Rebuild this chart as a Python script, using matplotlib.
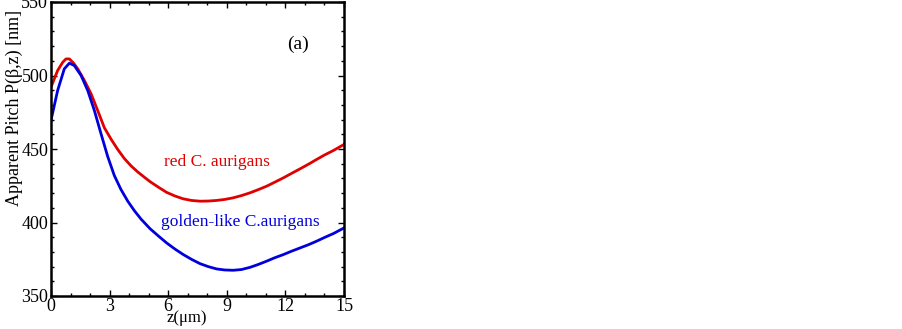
import matplotlib
matplotlib.use("Agg")
import matplotlib.pyplot as plt
from matplotlib.ticker import MultipleLocator

plt.rcParams['font.family'] = ['Liberation Serif', 'DejaVu Serif']

z_red = [0, 0.34, 0.6, 0.77, 0.94, 1.15, 1.37, 1.71, 2.05, 2.39, 2.73, 3.07, 3.41,
         3.75, 4.10, 4.44, 4.78, 5.07, 5.5, 5.92, 6.35, 6.77, 7.2, 7.63, 8.05, 8.48,
         8.9, 9.33, 9.75, 10.19, 10.6, 11.04, 11.45, 11.9, 12.3, 12.75, 13.2, 13.6,
         14.0, 14.46, 15.0]
p_red = [492.1, 503.4, 509, 511.3, 511.3, 508.5, 504.5, 496.6, 487.6, 476.2, 464.5,
         456.8, 449.8, 443.6, 438.5, 434.4, 430.8, 427.8, 424, 420.5, 418, 416.1, 415,
         414.5, 414.6, 415, 415.7, 416.8, 418.3, 420.2, 422.3, 424.7, 427.4, 430.4,
         433.3, 436.5, 439.8, 442.9, 445.9, 449, 453.1]

z_blue = [0, 0.34, 0.68, 0.94, 1.19, 1.54, 1.88, 2.22, 2.56, 2.90, 3.24, 3.58, 3.93,
          4.27, 4.61, 5.07, 5.5, 5.92, 6.35, 6.77, 7.2, 7.63, 8.05, 8.48, 8.9, 9.33,
          9.75, 10.19, 10.6, 11.04, 11.45, 11.9, 12.3, 12.75, 13.2, 13.6, 14.0,
          14.46, 15.0]
p_blue = [469.5, 489.8, 504.5, 508.4, 506.8, 500, 489.8, 476.2, 460.4, 445, 432,
          422.5, 414.5, 408, 402.3, 395.8, 390.8, 386.1, 381.9, 378.2, 374.9, 372,
          370, 368.4, 367.7, 367.5, 368, 369.5, 371.4, 373.7, 376, 378.2, 380.4,
          382.7, 385, 387.3, 389.8, 392.5, 396.3]

red = '#e00000'
blue = '#0000dd'

fig = plt.figure(figsize=(9.03, 3.29), dpi=100)
ax = fig.add_axes([51/903, 33/329, 293/903, 294/329])

ax.plot(z_red, p_red, color=red, lw=2.0)
ax.plot(z_blue, p_blue, color=blue, lw=2.0)

ax.set_xlim(0, 15)
ax.set_ylim(350, 550)
ax.xaxis.set_major_locator(MultipleLocator(3))
ax.xaxis.set_minor_locator(MultipleLocator(1))
ax.yaxis.set_major_locator(MultipleLocator(50))
ax.yaxis.set_minor_locator(MultipleLocator(10))
ax.tick_params(which='both', direction='in', top=True, right=True, width=1.0)
ax.tick_params(which='major', length=4.5, labelsize=13, pad=2)
ax.tick_params(axis='x', which='major', pad=1.5)
ax.tick_params(which='minor', length=2.5)
for s in ax.spines.values():
    s.set_linewidth(1.8)

ax.set_xlabel('z(μm)', fontsize=12)
ax.xaxis.set_label_coords(0.463, -0.047)
ax.set_ylabel('Apparent Pitch P(β,z) [nm]', fontsize=13)
ax.yaxis.set_label_coords(-0.095, 0.64)

ax.text(8.5, 441, 'red C. aurigans', color=red, fontsize=12.5, ha='center', va='center')
ax.text(9.7, 400, 'golden-like C.aurigans', color=blue, fontsize=12.5, ha='center', va='center')
ax.text(12.65, 521, '(a)', color='black', fontsize=14, ha='center', va='center')

fig.savefig('out.png', dpi=100)
